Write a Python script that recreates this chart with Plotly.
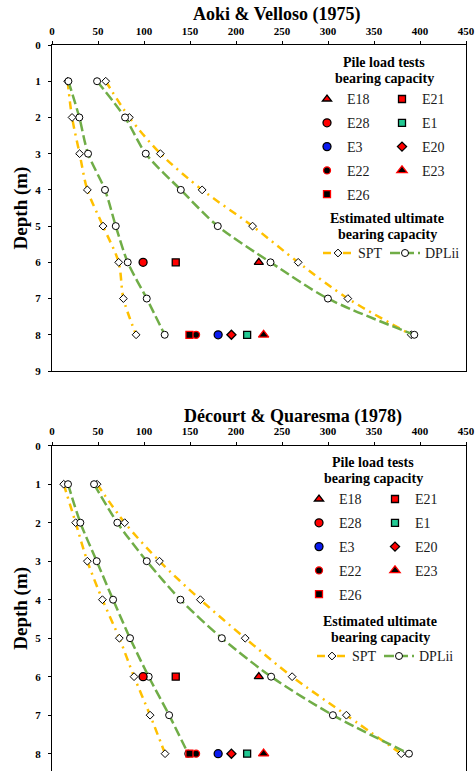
import plotly.graph_objects as go

# ---------------- data ----------------
depth = [1, 2, 3, 4, 5, 6, 7, 8]

# Aoki & Velloso (1975) estimated ultimate bearing capacity
av_spt_min = [17, 21.8, 30, 38.4, 55.5, 72.5, 77.6, 91.4]
av_dpl_min = [17.8, 29.7, 39.2, 57.6, 69.3, 82.3, 103, 122.5]
av_spt_max = [58.4, 84.1, 117.8, 163.2, 218, 267.6, 321.6, 390.5]
av_dpl_max = [49, 79.4, 101.9, 140, 180.2, 237.5, 299.9, 393.8]

# Décourt & Quaresma (1978) estimated ultimate bearing capacity
dq_spt_min = [12.7, 25.7, 38.4, 54.8, 73.2, 89.2, 106.6, 122.9]
dq_dpl_min = [17.4, 30.8, 48.6, 66.4, 84.8, 105.1, 127.3, 148]
dq_spt_max = [49, 79, 116.8, 161.3, 210, 261, 320, 379.6]
dq_dpl_max = [45.7, 71, 103, 139.6, 184.6, 238.2, 305.3, 388]

# Pile load tests bearing capacity (legend order)
test_names = ["E18", "E21", "E28", "E1", "E3", "E20", "E22", "E23", "E26"]
test_depth = [6, 6, 6, 8, 8, 8, 8, 8, 8]
test_capacity = [224.8, 134.5, 99, 212.1, 180.6, 195, 156.6, 230, 149.4]

x_ticks = [0, 50, 100, 150, 200, 250, 300, 350, 400, 450]
y_ticks = [0, 1, 2, 3, 4, 5, 6, 7, 8, 9]

# ---------------- styles ----------------
SERIF = "'Liberation Serif', 'Times New Roman', Times, 'DejaVu Serif', serif"
test_styles = {
    "E18": dict(symbol="triangle-up", size=8, color="#FF0000", line="#000000"),
    "E21": dict(symbol="square", size=7, color="#FF0000", line="#000000"),
    "E28": dict(symbol="circle", size=8, color="#FF0000", line="#000000"),
    "E1": dict(symbol="square", size=7, color="#22C993", line="#000000"),
    "E3": dict(symbol="circle", size=8, color="#0A1AF0", line="#000000"),
    "E20": dict(symbol="diamond", size=7, color="#FF0000", line="#000000"),
    "E22": dict(symbol="circle", size=7, color="#000000", line="#FF0000"),
    "E23": dict(symbol="triangle-up", size=9, color="#000000", line="#FF0000"),
    "E26": dict(symbol="square", size=7, color="#000000", line="#FF0000"),
}
col1 = ["E18", "E28", "E3", "E22", "E26"]

W, H = 476, 771
ML, MR = 52, 10
PW = W - ML - MR


def px_x(p):
    return (p - ML) / PW


def px_y(p):
    return 1 - p / H


fig = go.Figure()

panels = [
    dict(xa="x", ya="y", sets=(av_spt_min, av_spt_max, av_dpl_min, av_dpl_max),
         legs=("legend", "legend2", "legend3"), tag="av"),
    dict(xa="x2", ya="y2", sets=(dq_spt_min, dq_spt_max, dq_dpl_min, dq_dpl_max),
         legs=("legend4", "legend5", "legend6"), tag="dq"),
]

for p in panels:
    spt_min, spt_max, dpl_min, dpl_max = p["sets"]
    leg_a, leg_b, leg_c = p["legs"]
    for i, xs in enumerate([spt_min, spt_max]):
        fig.add_trace(go.Scatter(
            x=xs, y=depth, mode="lines+markers", name="SPT", xaxis=p["xa"], yaxis=p["ya"],
            line=dict(color="#FFC000", width=2.5, dash="8px,5px,2px,5px", shape="spline", smoothing=0.8),
            marker=dict(symbol="diamond", size=6, color="white", line=dict(color="#000000", width=1)),
            legend=leg_c, legendwidth=22, showlegend=(i == 0), legendgroup=p["tag"] + "spt"))
    for i, xs in enumerate([dpl_min, dpl_max]):
        fig.add_trace(go.Scatter(
            x=xs, y=depth, mode="lines+markers", name="DPLii", xaxis=p["xa"], yaxis=p["ya"],
            line=dict(color="#70AD47", width=2.5, dash="10px,4px", shape="spline", smoothing=0.8),
            marker=dict(symbol="circle", size=7, color="white", line=dict(color="#000000", width=1)),
            legend=leg_c, legendwidth=40, showlegend=(i == 0), legendgroup=p["tag"] + "dpl"))
    for nm, d, c in zip(test_names, test_depth, test_capacity):
        st = test_styles[nm]
        fig.add_trace(go.Scatter(
            x=[c], y=[d], mode="markers", name=nm, xaxis=p["xa"], yaxis=p["ya"],
            marker=dict(symbol=st["symbol"], size=st["size"], color=st["color"],
                        line=dict(color=st["line"], width=1.3)),
            legend=leg_a if nm in col1 else leg_b,
            legendgroup=p["tag"] + nm))

axis_font = dict(family=SERIF, size=11, color="#000000", weight="bold")
xcommon = dict(range=[0, 450], tickvals=x_ticks, side="top", ticks="outside", ticklen=3,
               tickcolor="#000000", showline=True, linecolor="#000000", linewidth=1,
               mirror=True, showgrid=False, zeroline=False, tickfont=axis_font,
               ticklabelstandoff=2, automargin=False)
ycommon = dict(tickvals=y_ticks, ticks="outside", ticklen=3, tickcolor="#000000",
               showline=True, linecolor="#000000", linewidth=1, mirror=True,
               showgrid=False, zeroline=False, tickfont=axis_font, ticklabelstandoff=5,
               automargin=False,
               title=dict(text="Depth (m)", font=dict(family=SERIF, size=19, color="#000000", weight="bold"),
                          standoff=2))

leg_font = dict(family=SERIF, size=14, color="#1a1a1a")


def vleg(x, y):
    return dict(x=x, y=y, xanchor="left", yanchor="top", bgcolor="rgba(0,0,0,0)",
                font=leg_font, traceorder="grouped", tracegroupgap=2.6, itemwidth=30)


def hleg(x, y):
    return dict(x=x, y=y, xanchor="left", yanchor="top", bgcolor="rgba(0,0,0,0)",
                font=leg_font, orientation="h", itemwidth=30)


fig.update_layout(
    width=W, height=H, margin=dict(l=ML, r=MR, t=0, b=0, autoexpand=False),
    paper_bgcolor="white", plot_bgcolor="white",
    font=dict(family=SERIF),
    xaxis=dict(domain=[0, 1], anchor="y", **xcommon),
    yaxis=dict(domain=[px_y(371), px_y(45)], range=[9, 0], anchor="x", **ycommon),
    xaxis2=dict(domain=[0, 1], anchor="y2", **xcommon),
    yaxis2=dict(domain=[0, px_y(445.7)], range=[8.45, 0], anchor="x2", **ycommon),
    legend=vleg(px_x(307), px_y(83.4)),
    legend2=vleg(px_x(382), px_y(83.4)),
    legend3=hleg(px_x(318), px_y(237.4)),
    legend4=vleg(px_x(299), px_y(483.4)),
    legend5=vleg(px_x(375), px_y(483.4)),
    legend6=hleg(px_x(312), px_y(640.4)),
)

ann = [
    ("Aoki & Velloso (1975)", 277, 14, 18),
    ("Décourt & Quaresma (1978)", 293, 416, 18),
    ("Pile load tests", 384, 62, 14),
    ("bearing capacity", 384, 79, 14),
    ("Estimated ultimate", 387, 218, 14),
    ("bearing capacity", 387, 234, 14),
    ("Pile load tests", 373, 462, 14),
    ("bearing capacity", 373, 478, 14),
    ("Estimated ultimate", 380, 621, 14),
    ("bearing capacity", 380, 637, 14),
]
for text, ax, ay, fs in ann:
    fig.add_annotation(text=text, x=px_x(ax), y=px_y(ay), xref="paper", yref="paper",
                       xanchor="center", yanchor="middle", showarrow=False,
                       font=dict(family=SERIF, size=fs, color="#000000", weight="bold"))

fig.write_html("out.html", config={"displayModeBar": False},
               post_script="document.body.style.margin='0';document.body.style.overflow='hidden';")
